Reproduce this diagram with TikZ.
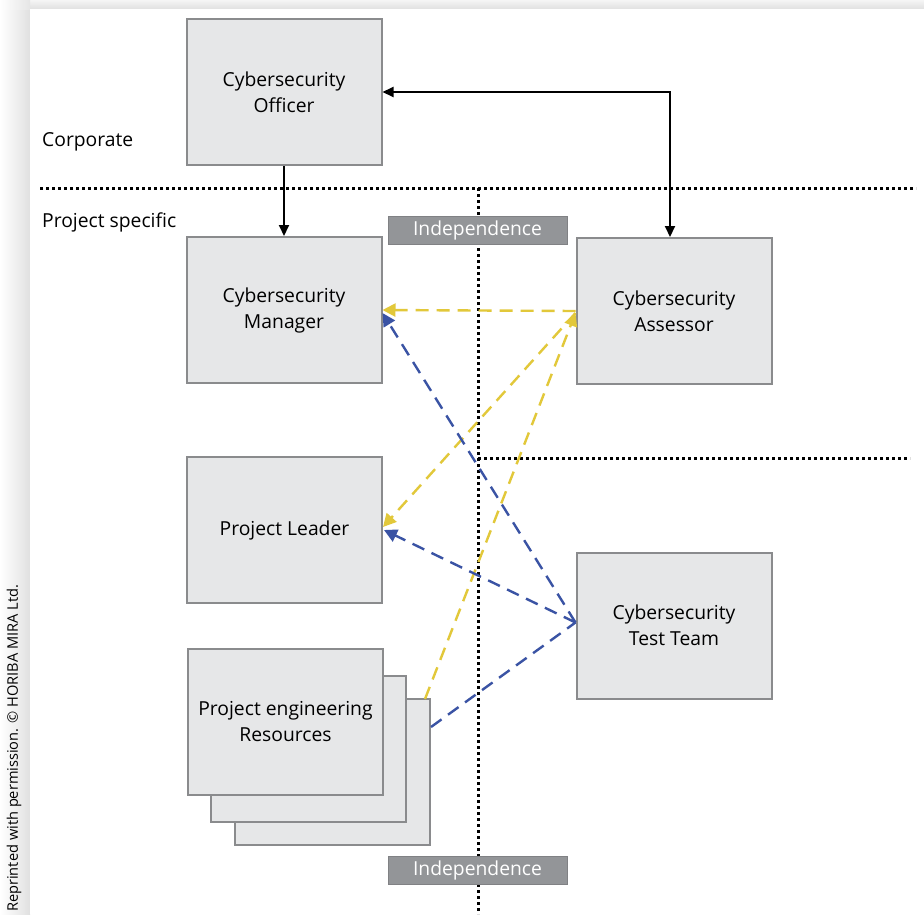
\documentclass[tikz,border=0pt]{standalone}
\usepackage{fontspec}
\setmainfont{Open Sans}
\usetikzlibrary{arrows.meta}
\definecolor{boxfill}{HTML}{E6E7E8}
\definecolor{boxline}{HTML}{8A8B8D}
\definecolor{tagfill}{HTML}{939598}
\definecolor{tagline}{HTML}{808184}
\definecolor{ylw}{HTML}{E2C83A}
\definecolor{blu}{HTML}{3A53A4}
\begin{document}
\begin{tikzpicture}[x=1pt,y=-1pt,
  role/.style={draw=boxline, line width=2pt, fill=boxfill, minimum width=195pt,
    minimum height=146pt, inner sep=0pt, align=center, font=\fontsize{19.3}{26}\selectfont},
  tag/.style={draw=tagline, line width=1pt, fill=tagfill, text=white, minimum width=179pt,
    minimum height=28pt, inner sep=0pt, font=\fontsize{19.3}{20}\selectfont},
  sidelabel/.style={anchor=west, inner sep=0pt, font=\fontsize{19.3}{20}\selectfont},
  divider/.style={line width=3pt, dash pattern=on 3pt off 3pt},
  solidlink/.style={line width=2pt, -{Triangle[length=11pt,width=10pt]}},
  ylink/.style={draw=ylw, line width=2.4pt, dash pattern=on 13pt off 8pt},
  blink/.style={draw=blu, line width=2.4pt, dash pattern=on 13pt off 8pt},
  yhead/.style={-{Triangle[length=13pt,width=13pt,fill=ylw]}},
  bhead/.style={-{Triangle[length=13pt,width=13pt,fill=blu]}}]
\useasboundingbox (0,0) rectangle (924,914);
% page panel with a soft shadow along its top and left edges
\fill[white] (0,0) rectangle (924,914);
\shade[left color=white, right color=black!12] (0,9) rectangle (30,914);
\shade[top color=black!4, bottom color=black!12] (30,0) rectangle (924,9);
\shade[left color=white, right color=black!10] (0,0) rectangle (30,9);
\fill[white] (30,9) rectangle (924,914);

% credit line
\node[rotate=90, anchor=west, inner sep=0pt, font=\fontsize{14.6}{16}\selectfont]
  (credit) at (14,912) {Reprinted with permission. © HORIBA MIRA Ltd.};

% dotted separators
\coordinate (hl) at (40,188);
\coordinate (hr) at (916,188);
\coordinate (vt) at (478,188);
\coordinate (vb) at (478,914);
\coordinate (ml) at (478,458);
\coordinate (mr) at (910,458);
\draw[divider] (hl) -- (hr);
\draw[divider] (vt) -- (vb);
\draw[divider] (ml) -- (mr);

% side labels
\node[sidelabel] (corp) at (42,142) {Corporate};
\node[sidelabel] (proj) at (42,222) {Project specific};

% roles
\node[role] (officer) at (284,92) {Cybersecurity\\Officer};
\node[role] (manager) at (284,310) {Cybersecurity\\Manager};
\node[role] (assessor) at (674,311) {Cybersecurity\\Assessor};
\node[role] (leader) at (284.5,530) {Project Leader};
\node[role] (testteam) at (674,625.5) {Cybersecurity\\Test Team};
\node[role] (resback) at (332.5,772) {};
\node[role] (resmid) at (308.5,748.5) {};
\node[role] (resfront) at (285.5,721.5) {Project engineering\\Resources};

% independence tags
\node[tag] (indtop) at (477.5,230) {Independence};
\node[tag] (indbot) at (477.5,870) {Independence};

% reporting lines
\draw[solidlink] (officer.south) -- (manager.north);
\coordinate (corner) at (670,92);
\draw[line width=2pt, {Triangle[length=11pt,width=10pt]}-{Triangle[length=11pt,width=10pt]}]
  (officer.east) -- (corner) -- ([xshift=-4pt]assessor.north);

% assessor links
\draw[ylink, yhead] (assessor.west) -- (manager.east);
\draw[ylink, yhead] ([yshift=-2pt]assessor.west) -- ([yshift=3pt]leader.east);
\draw[ylink, yhead] ([xshift=-6pt,yshift=-1pt]resback.north east) -- ([yshift=-2pt]assessor.west);

% test team links
\draw[blink, bhead] ([yshift=3pt]testteam.west) -- ([yshift=-3pt]manager.east);
\draw[blink, bhead] ([yshift=3pt]testteam.west) -- ([xshift=1pt]leader.east);
\draw[blink] ([yshift=-29pt]resback.north east) -- ([yshift=3pt]testteam.west);
\end{tikzpicture}
\end{document}
